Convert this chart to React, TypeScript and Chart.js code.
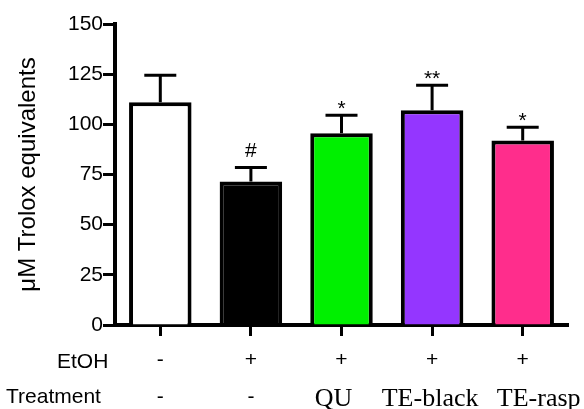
import React, { useEffect, useRef } from "react";
import { Chart, registerables } from "chart.js";

Chart.register(...registerables);

const categories = ["Control", "EtOH", "EtOH+QU", "EtOH+TE-black", "EtOH+TE-rasp"];
const etohLabels = ["-", "+", "+", "+", "+"];
const treatmentLabels = ["-", "-", "QU", "TE-black", "TE-rasp"];
const means = [111, 71.5, 95.5, 107, 92];
const errors = [13.5, 7, 9, 12.5, 6.5];
const significance = ["", "#", "*", "**", "*"];
const barColors = ["#ffffff", "#000000", "#00f000", "#9436ff", "#ff2d8c"];
const yMin = 0;
const yMax = 150;
const yStep = 25;
const yTitle = "\u03bcM Trolox equivalents";
const rowTitles = ["EtOH", "Treatment"];

// horizontal nudges of the treatment labels (pixels), as placed in the original figure
const treatmentNudge = [0, 0, -8, -2, 16];

const SANS = "'Liberation Sans', Arial, sans-serif";
const SERIF = "'Liberation Serif', 'Times New Roman', serif";

const overlayPlugin = {
  id: "overlay",
  afterDatasetsDraw(chart: any) {
    const ctx = chart.ctx;
    const y = chart.scales.y;
    const meta = chart.getDatasetMeta(0);
    ctx.save();
    ctx.strokeStyle = "#000";
    ctx.fillStyle = "#000";
    ctx.lineWidth = 3;
    meta.data.forEach((bar: any, i: number) => {
      const x = bar.x;
      const yb = y.getPixelForValue(means[i]);
      const yt = y.getPixelForValue(means[i] + errors[i]);
      ctx.beginPath();
      ctx.moveTo(x, yb);
      ctx.lineTo(x, yt);
      ctx.moveTo(x - 16, yt);
      ctx.lineTo(x + 16, yt);
      ctx.stroke();
      const s = significance[i];
      if (s) {
        ctx.font = "21px " + SANS;
        ctx.textAlign = "center";
        ctx.textBaseline = "alphabetic";
        const off = s === "#" ? 10 : 0;
        ctx.fillText(s, x, yt - off);
      }
    });
    ctx.restore();
  },
  afterDraw(chart: any) {
    const ctx = chart.ctx;
    const xs = chart.scales.x;
    const meta = chart.getDatasetMeta(0);
    const row1 = xs.top + 43;
    const row2 = xs.top + 78;
    ctx.save();
    ctx.fillStyle = "#000";
    ctx.textBaseline = "alphabetic";
    ctx.textAlign = "left";
    ctx.font = "21px " + SANS;
    ctx.fillText(rowTitles[0], 57, row1);
    ctx.fillText(rowTitles[1], 6, row2);
    ctx.textAlign = "center";
    meta.data.forEach((bar: any, i: number) => {
      const t = treatmentLabels[i];
      if (t === "-") {
        ctx.font = "21px " + SANS;
        ctx.fillText(t, bar.x + treatmentNudge[i], row2);
      } else {
        ctx.font = "26px " + SERIF;
        ctx.fillText(t, bar.x + treatmentNudge[i], row2 + 3);
      }
    });
    ctx.restore();
  },
};

export default function App() {
  const ref = useRef<HTMLCanvasElement | null>(null);
  useEffect(() => {
    if (!ref.current) return;
    const chart = new Chart(ref.current, {
      type: "bar",
      data: {
        labels: categories,
        datasets: [
          {
            data: means,
            backgroundColor: barColors,
            borderColor: "#000",
            borderWidth: 4,
            categoryPercentage: 1,
            barPercentage: 0.69,
          },
        ],
      },
      options: {
        responsive: false,
        animation: false,
        layout: { padding: { top: 24, right: 16, left: 0, bottom: 0 } },
        plugins: { legend: { display: false }, tooltip: { enabled: false } },
        scales: {
          x: {
            type: "category",
            offset: true,
            z: 1,
            grid: {
              display: true,
              drawOnChartArea: false,
              drawTicks: true,
              tickLength: 11,
              tickWidth: 3,
              tickColor: "#000",
              offset: false,
            },
            border: { display: true, color: "#000", width: 4 },
            ticks: {
              color: "#000",
              font: { family: SANS, size: 21 },
              padding: 12,
              maxRotation: 0,
              callback: (_v: any, i: number) => etohLabels[i],
            },
            afterFit: (s: any) => {
              s.height = 84;
            },
          },
          y: {
            min: yMin,
            max: yMax,
            z: 1,
            grid: {
              display: true,
              drawOnChartArea: false,
              drawTicks: true,
              tickLength: 12,
              tickWidth: 3,
              tickColor: "#000",
            },
            border: { display: true, color: "#000", width: 4 },
            ticks: {
              stepSize: yStep,
              color: "#000",
              font: { family: SANS, size: 21 },
              padding: 0,
            },
            title: {
              display: true,
              text: yTitle,
              color: "#000",
              font: { family: SANS, size: 24 },
              padding: { top: 14, bottom: 4 },
            },
            afterFit: (s: any) => {
              s.width = 115;
            },
          },
        },
      },
      plugins: [overlayPlugin],
    } as any);
    return () => chart.destroy();
  }, []);
  return (
    <div style={{ position: "absolute", left: 0, top: 0, width: 584, height: 409, background: "#fff" }}>
      <canvas ref={ref} width={584} height={409} style={{ display: "block" }} />
    </div>
  );
}
